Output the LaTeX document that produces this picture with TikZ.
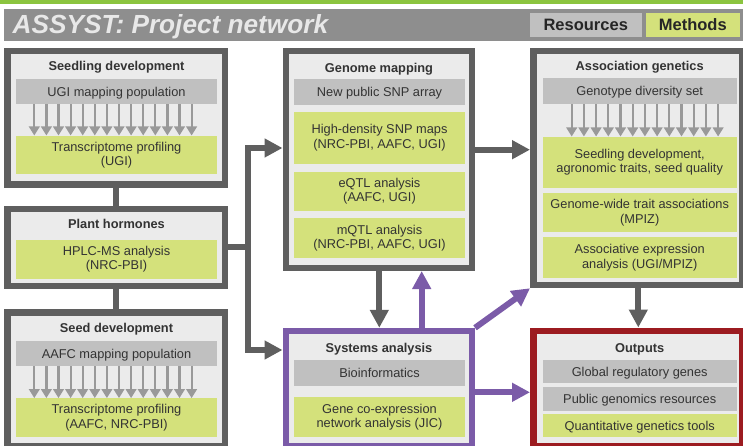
\documentclass[tikz,border=0pt]{standalone}
\usepackage{fontspec}
\setmainfont{Liberation Sans}
\usetikzlibrary{arrows.meta}
\definecolor{boxf}{HTML}{EBEBEB}
\definecolor{bordc}{HTML}{5F5F5F}
\definecolor{grayb}{HTML}{C0C0C0}
\definecolor{greenb}{HTML}{D4E17B}
\definecolor{purp}{HTML}{7B5BA8}
\definecolor{dred}{HTML}{9C1B20}
\definecolor{smallc}{HTML}{999999}
\definecolor{hdrgray}{HTML}{8E8E8E}
\definecolor{topgreen}{HTML}{8BC43F}
\definecolor{txt}{HTML}{333333}
\definecolor{hdrtxt}{HTML}{E8E8E8}
\newcommand\bodyf{\fontsize{12.8}{14.5}\selectfont}
\tikzset{
 box/.style={draw=bordc, fill=boxf, line width=6.5pt, inner sep=0pt},
 band/.style={inner sep=0pt, align=center, text=txt, font=\bodyf},
 one/.style={text height=9.2pt, text depth=0pt},
 gband/.style={band, fill=grayb},
 yband/.style={band, fill=greenb},
 ttl/.style={inner sep=0pt, font=\bodyf\bfseries, text=txt, text height=9.2pt, text depth=0pt},
 conn/.style={draw=bordc, line width=6pt},
 pconn/.style={draw=purp, line width=6pt},
 bigtip/.style={-{Triangle[length=18pt,width=18pt]}},
 smallarr/.style={draw=smallc, line width=2.2pt, -{Triangle[length=9pt,width=10.5pt]}},
}
\begin{document}
\begin{tikzpicture}[x=1pt,y=-1pt]
\useasboundingbox (0,0) rectangle (743,446);
\clip (0,0) rectangle (743,446);
% header
\fill[topgreen] (0,0) rectangle (743,4);
\node[fill=hdrgray, minimum width=739pt, minimum height=31.7pt, inner sep=0pt, anchor=north west] (hdr) at (4,9) {};
\node[anchor=base west, inner sep=0pt, text=hdrtxt, font=\fontsize{26.2}{28}\selectfont\bfseries\itshape] (htitle) at (12.5,33.3) {ASSYST: Project network};
\node[fill=grayb, minimum width=111.5pt, minimum height=24pt, inner sep=0pt, text=black!85, font=\fontsize{16.5}{18}\selectfont\bfseries] (res) at (585.75,24.7) {Resources};
\node[fill=greenb, minimum width=94.5pt, minimum height=24pt, inner sep=0pt, text=black!85, font=\fontsize{16.5}{18}\selectfont\bfseries] (meth) at (692.75,24.7) {Methods};

% boxes
\node[box, minimum width=217.5pt, minimum height=133.5pt] (SD) at (116,117.75) {};
\node[box, minimum width=217.5pt, minimum height=76.8pt] (PH) at (116,247.65) {};
\node[box, minimum width=217.5pt, minimum height=134.3pt] (SeD) at (116,379.4) {};
\node[box, minimum width=186pt, minimum height=216.75pt] (GM) at (378.75,159.4) {};
\node[box, draw=purp, minimum width=186pt, minimum height=115.5pt] (SA) at (378.75,388.8) {};
\node[box, minimum width=209.25pt, minimum height=234pt] (AG) at (637.9,168) {};
\node[box, draw=dred, minimum width=209.25pt, minimum height=115.8pt] (OUT) at (637.9,388.65) {};

% Seedling development
\node[ttl] (sdttl) at (116.5,65.7) {Seedling development};
\node[gband, one, minimum width=201pt, minimum height=25pt] (sdg) at (116.5,91.8) {UGI mapping population};
\node[yband, minimum width=201pt, minimum height=38.6pt] (sdt) at (116.5,155) {Transcriptome profiling\\(UGI)};
\foreach \i in {0,...,13} {
  \draw[smallarr] (sdg.south -| {34.3+12.1*\i},0) -- (sdt.north -| {34.3+12.1*\i},0);
}
% Plant hormones
\node[ttl] (phttl) at (116.5,224) {Plant hormones};
\node[yband, minimum width=201pt, minimum height=38.7pt] (pht) at (116.5,259.35) {HPLC-MS analysis\\(NRC-PBI)};
% Seed development
\node[ttl] (sedttl) at (116.5,328.3) {Seed development};
\node[gband, one, minimum width=201pt, minimum height=25pt] (sedg) at (116.5,353.5) {AAFC mapping population};
\node[yband, minimum width=201pt, minimum height=38.4pt] (sedt) at (116.5,417.5) {Transcriptome profiling\\(AAFC, NRC-PBI)};
\foreach \i in {0,...,13} {
  \draw[smallarr] (sedg.south -| {34.3+12.1*\i},0) -- (sedt.north -| {34.3+12.1*\i},0);
}
% Genome mapping
\node[ttl] (gmttl) at (379,68.3) {Genome mapping};
\node[gband, one, minimum width=171pt, minimum height=26pt] (gmg) at (379.5,92) {New public SNP array};
\node[yband, minimum width=171pt, minimum height=52pt] (gm1) at (379.5,137.7) {High-density SNP maps\\(NRC-PBI, AAFC, UGI)};
\node[yband, minimum width=171pt, minimum height=39pt] (gm2) at (379.5,191.2) {eQTL analysis\\(AAFC, UGI)};
\node[yband, minimum width=171pt, minimum height=39.4pt] (gm3) at (379.5,238) {mQTL analysis\\(NRC-PBI, AAFC, UGI)};
% Systems analysis
\node[ttl] (sattl) at (379,348.3) {Systems analysis};
\node[gband, one, minimum width=171pt, minimum height=26pt] (sag) at (379.5,373) {Bioinformatics};
\node[yband, minimum width=171pt, minimum height=39.4pt] (sat) at (379.5,417) {Gene co-expression\\network analysis (JIC)};
% Association genetics
\node[ttl] (agttl) at (639.7,65.7) {Association genetics};
\node[gband, one, minimum width=194pt, minimum height=26pt] (agg) at (639.7,91.3) {Genotype diversity set};
\node[yband, minimum width=194pt, minimum height=51pt] (ag1) at (639.7,162.2) {Seedling development,\\agronomic traits, seed quality};
\node[yband, minimum width=194pt, minimum height=39pt] (ag2) at (639.7,212.8) {Genome-wide trait associations\\(MPIZ)};
\node[yband, minimum width=194pt, minimum height=40.4pt] (ag3) at (639.7,257.5) {Associative expression\\analysis (UGI/MPIZ)};
\foreach \i in {0,...,12} {
  \draw[smallarr] (agg.south -| {571.7+12.2*\i},0) -- (ag1.north -| {571.7+12.2*\i},0);
}
% Outputs
\node[ttl] (outttl) at (639.7,348.3) {Outputs};
\node[gband, one, minimum width=194pt, minimum height=23.3pt] (out1) at (639.7,371.65) {Global regulatory genes};
\node[gband, one, minimum width=194pt, minimum height=24pt] (out2) at (639.7,398.7) {Public genomics resources};
\node[yband, one, minimum width=194pt, minimum height=23.3pt] (out3) at (639.7,425.65) {Quantitative genetics tools};

% connectors
\coordinate (j) at (248,246.7);
\draw[conn] (SD.south) -- (PH.north);
\draw[conn] (PH.south) -- (SeD.north);
\draw[conn] (PH.east |- j) -- (j);
\draw[conn, bigtip] (j) |- (GM.west |- 0,148);
\draw[conn, bigtip] (j) |- (SA.west |- 0,350);
\draw[conn, bigtip] (GM.east |- 0,149.7) -- (AG.west |- 0,149.7);
\draw[conn, bigtip] (GM.south -| 379.3,0) -- (SA.north -| 379.3,0);
\draw[pconn, bigtip] (SA.north -| 421.7,0) -- (GM.south -| 421.7,0);
\draw[pconn, bigtip] (SA.north east) -- (AG.south west);
\draw[pconn, bigtip] (SA.east |- 0,392.3) -- (OUT.west |- 0,392.3);
\draw[conn, bigtip] (AG.south -| 638.3,0) -- (OUT.north -| 638.3,0);
\end{tikzpicture}
\end{document}
